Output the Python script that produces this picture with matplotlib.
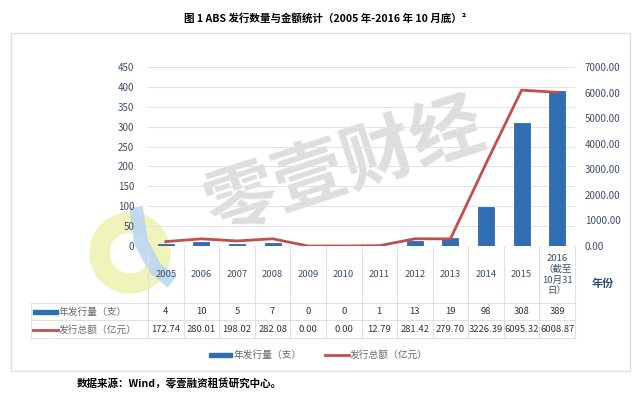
import numpy as np
import matplotlib.pyplot as plt
from matplotlib.patches import Rectangle, Wedge
from matplotlib.lines import Line2D
from matplotlib.ticker import FormatStrFormatter

plt.rcParams['font.family'] = ['Noto Sans CJK SC', 'DejaVu Sans']

years = ['2005', '2006', '2007', '2008', '2009', '2010', '2011', '2012',
         '2013', '2014', '2015', '2016\n（截至\n10月31\n日）']
counts = [4, 10, 5, 7, 0, 0, 1, 13, 19, 98, 308, 389]
amounts = [172.74, 280.01, 198.02, 282.08, 0.00, 0.00, 12.79, 281.42,
           279.70, 3226.39, 6095.32, 6008.87]
count_labels = ['4', '10', '5', '7', '0', '0', '1', '13', '19', '98', '308', '389']
amount_labels = ['172.74', '280.01', '198.02', '282.08', '0.00', '0.00', '12.79',
                 '281.42', '279.70', '3226.39', '6095.32', '6008.87']
name_count = '年发行量（支）'
name_amount = '发行总额（亿元）'

W, H = 640, 397
def fx(p): return p / W
def fy(p): return 1 - p / H

blue = '#2F6DB5'
red = '#C0504D'
tickc = '#3E4F6A'
gridc = '#E3E3E3'

fig = plt.figure(figsize=(6.4, 3.97), dpi=100)

# outer frame
fig.patches.append(Rectangle((fx(11), fy(371)), fx(630) - fx(11), fy(33) - fy(371),
                             transform=fig.transFigure, fill=False,
                             edgecolor='#E0E0E0', lw=1))

fig.text(fx(325), fy(18), '图 1 ABS 发行数量与金额统计（2005 年-2016 年 10 月底）²',
         ha='center', va='center', fontsize=7.6, fontweight='bold')

ax = fig.add_axes([fx(148), fy(246), fx(575) - fx(148), fy(67) - fy(246)])
ax2 = ax.twinx()
ax.set_facecolor('none')
ax2.set_facecolor('none')
x = np.arange(len(years))

ax.bar(x, counts, width=0.45, color=blue, edgecolor='#255A99', lw=0.5, zorder=3)
ax2.plot(x, amounts, color=red, lw=2, zorder=4)

ax.set_xlim(-0.5, len(years) - 0.5)
ax.set_ylim(0, 450)
ax.set_yticks(np.arange(0, 451, 50))
ax2.set_ylim(0, 7000)
ax2.set_yticks(np.arange(0, 7001, 1000))
ax2.yaxis.set_major_formatter(FormatStrFormatter('%.2f'))
ax.set_xticks([])
ax.grid(axis='y', color=gridc, lw=0.8, zorder=0)
for a in (ax, ax2):
    for s in a.spines.values():
        s.set_visible(False)
    a.tick_params(length=0, labelsize=7, labelcolor=tickc)
ax.tick_params(axis='y', pad=10)
ax2.tick_params(axis='y', pad=7)
ax.axhline(0, color='#D0D0D0', lw=0.8, zorder=2)

# data table under the plot
tr = ax.get_xaxis_transform()
ph = 179.0
def ay(p): return -(p - 246) / ph

linec = '#E0E0E0'
for b in np.arange(-0.5, len(years), 1.0):
    ax.plot([b, b], [0, ay(338)], transform=tr, color=linec, lw=0.8, clip_on=False)
for yy in (303, 320, 338):
    fig.add_artist(Line2D([fx(31), fx(575)], [fy(yy), fy(yy)], color=linec, lw=0.8))
fig.add_artist(Line2D([fx(31), fx(31)], [fy(303), fy(338)], color=linec, lw=0.8))

for i, yl in enumerate(years):
    ax.text(i, ay(274.5), yl, transform=tr, ha='center', va='center',
            fontsize=6.8, color=tickc, linespacing=1.25)
    ax.text(i, ay(312), count_labels[i], transform=tr, ha='center', va='center',
            fontsize=6.8, color='#333333')
    ax.text(i, ay(329.5), amount_labels[i], transform=tr, ha='center', va='center',
            fontsize=6.8, color='#333333')

fig.patches.append(Rectangle((fx(33), fy(314)), fx(58) - fx(33), fy(310) - fy(314),
                             transform=fig.transFigure, color=blue))
fig.text(fx(59), fy(312), name_count, ha='left', va='center', fontsize=7, color='#6A6A6A')
fig.add_artist(Line2D([fx(33), fx(58)], [fy(329.5), fy(329.5)], color=red, lw=2))
fig.text(fx(59), fy(329.5), name_amount, ha='left', va='center', fontsize=7, color='#6A6A6A')

fig.text(fx(592), fy(283), '年份', ha='left', va='center', fontsize=8,
         fontweight='bold', color='#2E4A72')

# bottom legend
fig.patches.append(Rectangle((fx(209), fy(357)), fx(232) - fx(209), fy(353) - fy(357),
                             transform=fig.transFigure, color=blue))
fig.text(fx(234), fy(355), name_count, ha='left', va='center', fontsize=7, color='#6A6A6A')
fig.add_artist(Line2D([fx(325), fx(349)], [fy(355), fy(355)], color=red, lw=2))
fig.text(fx(350), fy(355), name_amount, ha='left', va='center', fontsize=7, color='#6A6A6A')

fig.text(fx(77), fy(383), '数据来源：Wind，零壹融资租赁研究中心。', ha='left', va='center',
         fontsize=7.6, fontweight='bold')

# watermark (logo ring, blue stroke, rotated text), kept behind the chart
fig.patches.append(Wedge((1.30, (H - 253) / 100), 0.40, 0, 360, width=0.19,
                         transform=fig.dpi_scale_trans, color='#EEF3B0', alpha=0.85,
                         zorder=-2))
fig.add_artist(Line2D([fx(136), fx(141), fx(155), fx(172)],
                      [fy(207), fy(242), fy(268), fy(282)],
                      color='#B7D5F2', lw=10, alpha=0.85, solid_capstyle='butt', zorder=-1))
fig.text(fx(345), fy(168), '零壹财经', ha='center', va='center', fontsize=52,
         fontweight='bold', color='#C8C8C8', alpha=0.6, rotation=18, zorder=-1)

fig.savefig('out.png', dpi=100)
